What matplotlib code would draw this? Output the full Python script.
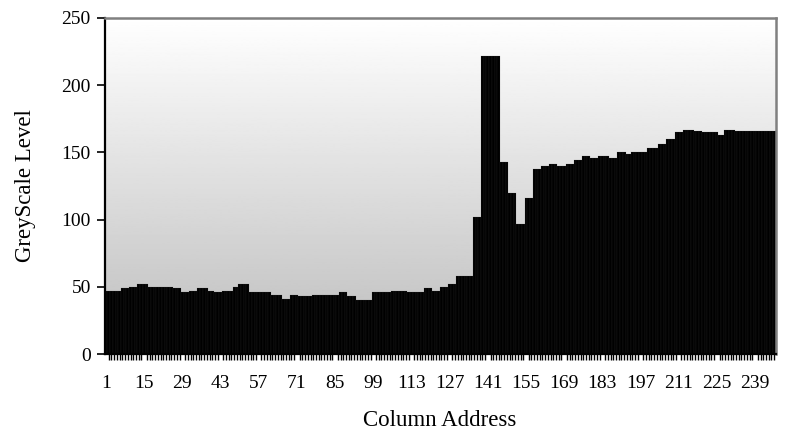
import numpy as np
import matplotlib
matplotlib.use('Agg')
import matplotlib.pyplot as plt
from matplotlib.ticker import FixedLocator

run_values = [47, 49, 50, 52, 50, 49, 46, 47, 49, 47, 46, 47, 50, 52, 46, 44, 41, 44, 43, 44,
              46, 43, 40, 46, 47, 46, 49, 47, 50, 52, 58, 102, 222, 143, 120, 97, 116, 138, 140, 141,
              140, 141, 144, 147, 146, 147, 146, 150, 149, 150, 153, 156, 160, 165, 167, 166, 165, 163, 167, 166]
run_lengths = [6, 3, 3, 4, 9, 3, 3, 3, 4, 2, 3, 4, 2, 4, 8, 4, 3, 3, 5, 10,
               3, 3, 6, 7, 6, 6, 3, 3, 3, 3, 6, 3, 7, 3, 3, 3, 3, 3, 3, 3,
               3, 3, 3, 3, 3, 4, 3, 3, 2, 6, 4, 3, 3, 3, 4, 3, 6, 2, 4, 15]
grey = np.repeat(run_values, run_lengths)
columns = np.arange(1, len(grey) + 1)
label_cols = list(range(1, 240, 14))

plt.rcParams['font.family'] = ['Liberation Serif', 'DejaVu Serif']

fig = plt.figure(figsize=(7.85, 4.43), dpi=100)
ax = fig.add_axes([0.1333, 0.2009, 0.8547, 0.7585])

# gradient background, white at top to grey at bottom
grad = np.linspace(0.74, 1.0, 256).reshape(-1, 1)
ax.imshow(grad, extent=[0.5, len(grey) + 0.5, 0, 250], origin='lower', aspect='auto',
          cmap='gray', vmin=0, vmax=1, zorder=0)

ax.bar(columns, grey, width=1.0, color='black', edgecolor='#505050', linewidth=0.1, zorder=2)

ax.set_xlim(0.5, len(grey) + 0.5)
ax.set_ylim(0, 250)
ax.set_yticks(range(0, 251, 50))
ax.set_xticks(label_cols)
ax.set_xticklabels([str(c) for c in label_cols])
ax.xaxis.set_minor_locator(FixedLocator(columns))
ax.tick_params(axis='x', which='major', length=0, pad=15, labelsize=14)
ax.tick_params(axis='x', which='minor', length=4, width=1.0, color='black')
ax.tick_params(axis='y', length=6, width=1.2, labelsize=14, pad=4)

for side in ['left', 'bottom']:
    ax.spines[side].set_color('black')
    ax.spines[side].set_linewidth(1.6)
for side in ['top', 'right']:
    ax.spines[side].set_color('#808080')
    ax.spines[side].set_linewidth(1.8)

ax.set_ylabel('GreyScale Level', fontsize=16.5, labelpad=18)
ax.set_xlabel('Column Address', fontsize=16.5, labelpad=13)

fig.savefig('out.png', dpi=100)
